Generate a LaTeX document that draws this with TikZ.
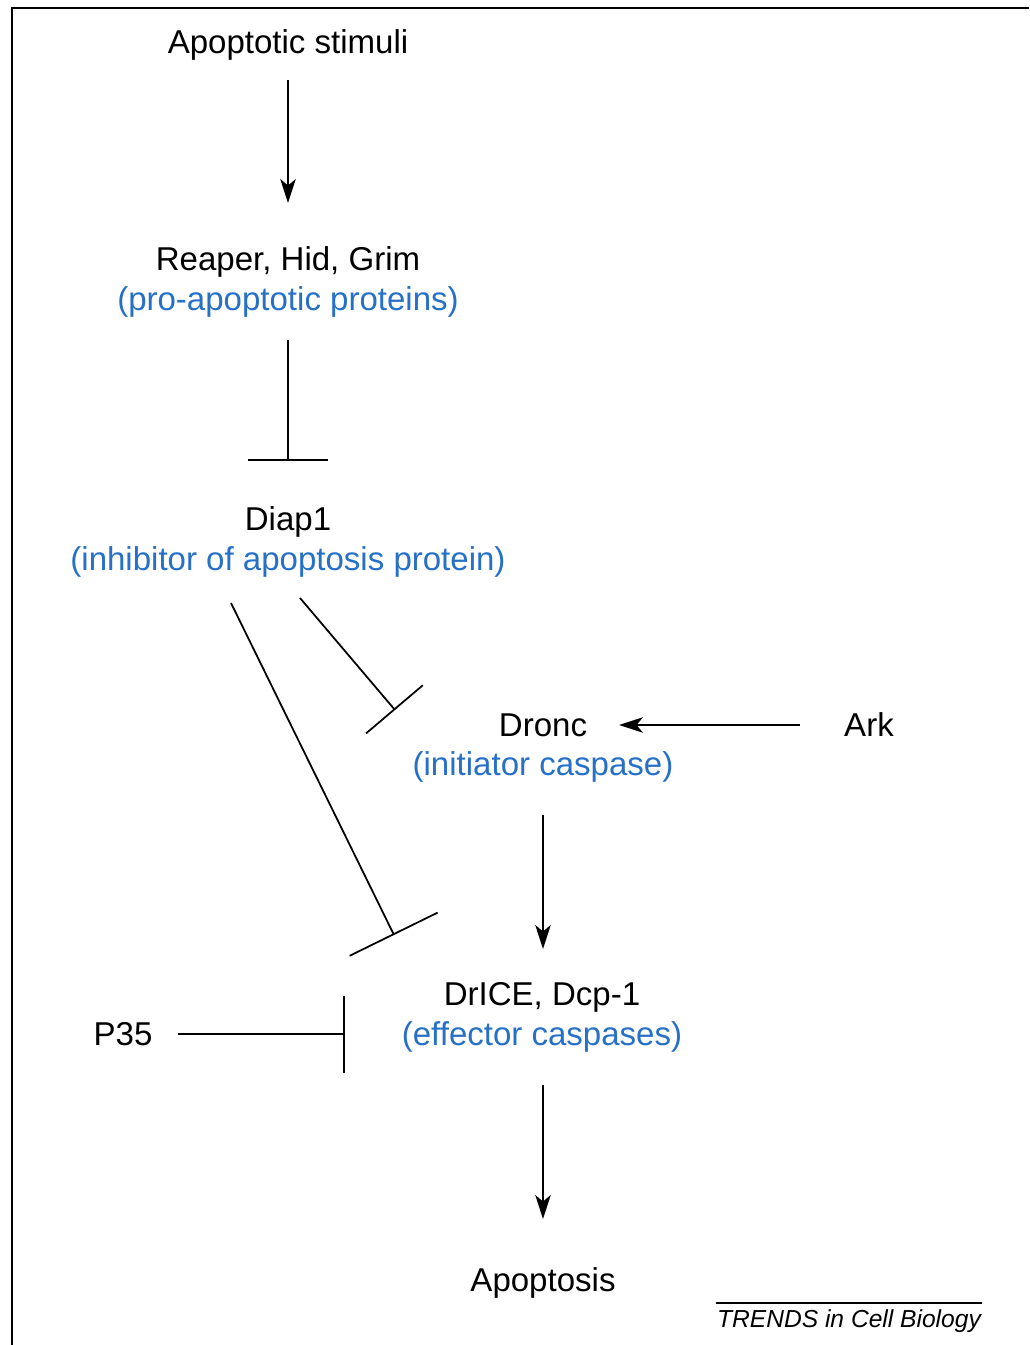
\documentclass[tikz,border=0pt]{standalone}
\usepackage{fontspec}
\setmainfont{Liberation Sans}
\usetikzlibrary{arrows.meta}
\definecolor{trendblue}{RGB}{38,112,199}
\begin{document}
\begin{tikzpicture}[x=0.02cm,y=-0.02cm]
        \useasboundingbox (0,0) rectangle (1029,1345);
        \draw[line width=1.6pt] (12,1345)--(12,8)--(1029,8);
        \begin{scope}[every node/.style={align=center,font=\fontsize{18.8}{22.7}\selectfont}]
            \node (stim)  at (288,45)   {Apoptotic stimuli};
            \node (rhg)   at (288,282)  {Reaper, Hid, Grim\\\textcolor{trendblue}{(pro-apoptotic proteins)}};
            \node (diap)  at (288,542)  {Diap1\\\textcolor{trendblue}{(inhibitor of apoptosis protein)}};
            \node (dronc) at (543,748)  {Dronc\\\textcolor{trendblue}{(initiator caspase)}};
            \node (ark)   at (869,725)  {Ark};
            \node (drice) at (542,1017) {DrICE, Dcp-1\\\textcolor{trendblue}{(effector caspases)}};
            \node (p35)   at (123,1034) {P35};
            \node (apop)  at (543,1283) {Apoptosis};
        \end{scope}
        % connector ends
        \coordinate (stim-o)  at (288,80);   \coordinate (rhg-i)   at (288,203);
        \coordinate (rhg-o)   at (288,340);  \coordinate (diap-i)  at (288,461);
        \coordinate (diap-a)  at (300,598);  \coordinate (dronc-x) at (395,710);
        \coordinate (diap-b)  at (231,603);  \coordinate (drice-x) at (394,935);
        \coordinate (ark-o)   at (800,725);  \coordinate (dronc-i) at (619,725);
        \coordinate (dronc-o) at (543,815);  \coordinate (drice-i) at (543,949);
        \coordinate (p35-o)   at (178,1034); \coordinate (drice-y) at (345,1034);
        \coordinate (drice-o) at (543,1085); \coordinate (apop-i)  at (543,1219);
        \begin{scope}[line width=1pt]
            \begin{scope}[-{Stealth[length=0.48cm,width=0.31cm,inset=0.13cm]}]
                \draw (stim-o)--(rhg-i);
                \draw (ark-o)--(dronc-i);
                \draw (dronc-o)--(drice-i);
                \draw (drice-o)--(apop-i);
            \end{scope}
            \draw[-{Bar[width=1.62cm]}] (rhg-o)--(diap-i);
            \draw[-{Bar[width=1.49cm]}] (diap-a)--(dronc-x);
            \draw[-{Bar[width=1.96cm]}] (diap-b)--(drice-x);
            \draw[-{Bar[width=1.54cm]}] (p35-o)--(drice-y);
        \end{scope}
        \draw[line width=0.6pt] (716,1303)--(982,1303);
        \node[font=\fontsize{14}{17}\itshape] (trends) at (849,1321) {TRENDS in Cell Biology};
    \end{tikzpicture}
\end{document}
